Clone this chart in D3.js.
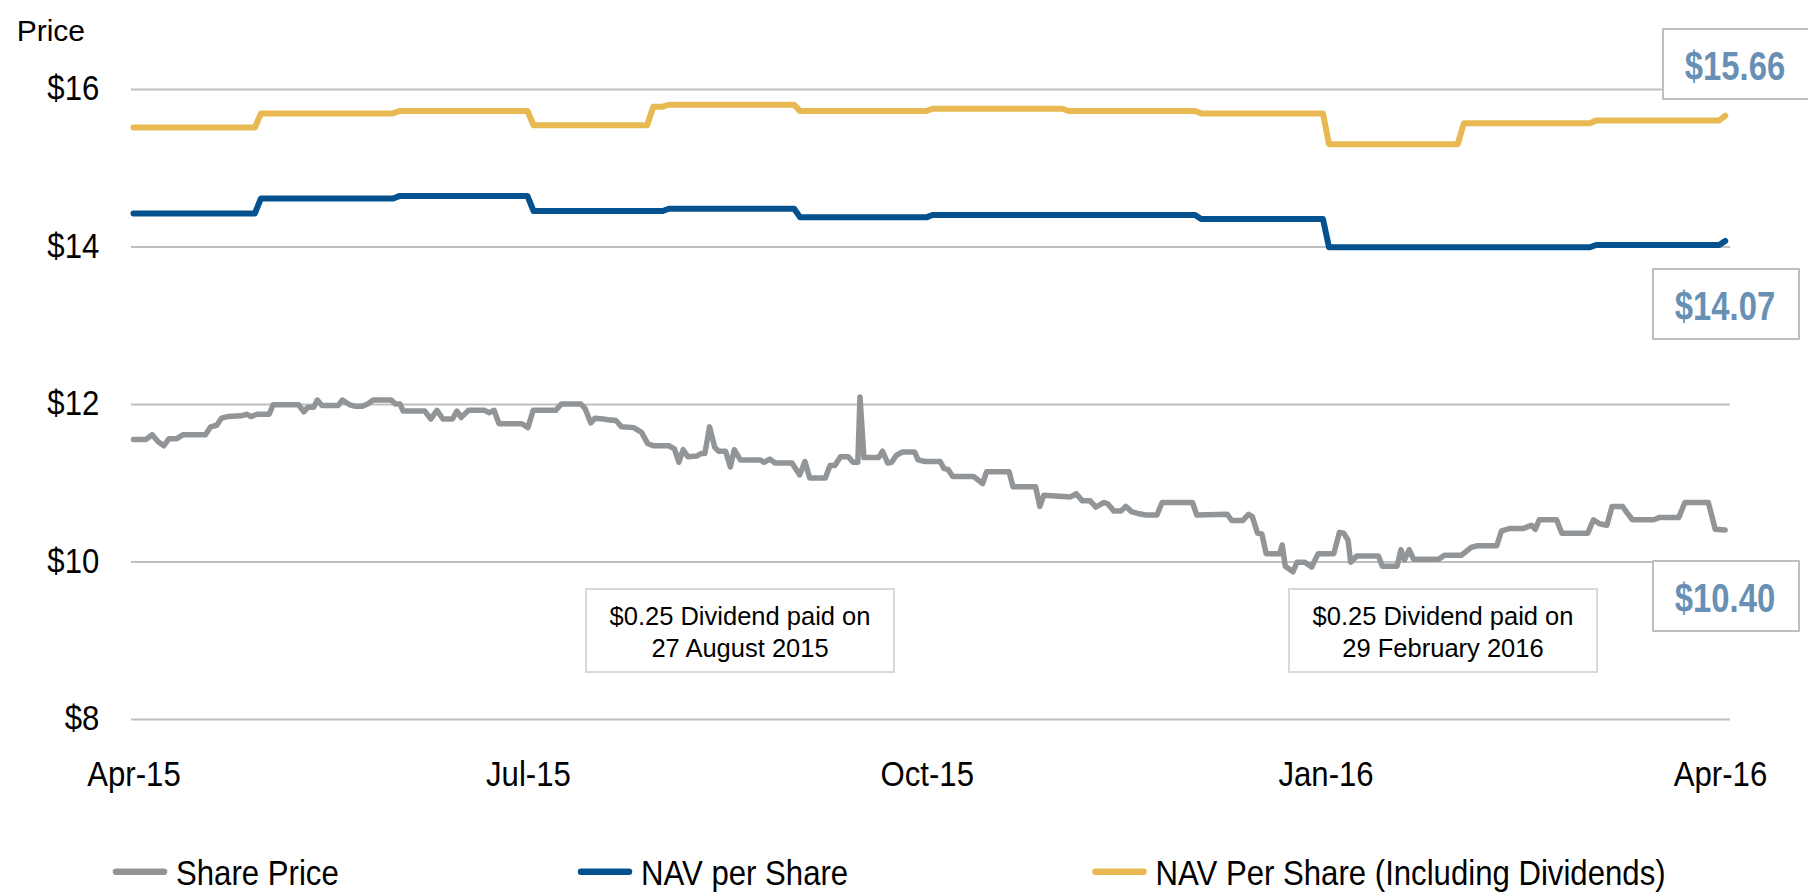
<!DOCTYPE html>
<html>
<head>
<meta charset="utf-8">
<script src="https://cdn.jsdelivr.net/npm/d3@7"></script>
<style>
  html, body { margin: 0; padding: 0; background: #ffffff; }
  svg { display: block; font-family: "Liberation Sans", Arial, sans-serif; }
</style>
</head>
<body>
<svg id="chart" width="1808" height="893"></svg>
<script>
// ---- data -------------------------------------------------------------
const startDate = new Date(2015, 3, 1);          // day 0 of every series
const xTickDates = [new Date(2015, 3, 1), new Date(2015, 6, 1), new Date(2015, 9, 1),
                    new Date(2016, 0, 1), new Date(2016, 3, 1)];
const yTicks = [8, 10, 12, 14, 16];
const seriesNames = ["Share Price", "NAV per Share", "NAV Per Share (Including Dividends)"];

// Share price, [days since 1 Apr 2015, price]
const sharePrice = [
  [0,11.55],[2.9,11.55],[4.3,11.61],[5.7,11.52],[7.0,11.47],[8.2,11.56],[10.0,11.56],[11.4,11.61],
  [16.6,11.61],[17.8,11.71],[19.2,11.73],[20.3,11.82],[21.7,11.84],[24.8,11.85],[26.2,11.87],[27.1,11.84],
  [28.5,11.87],[31.3,11.87],[32.2,11.99],[38.1,11.99],[39.3,11.90],[40.2,11.96],[41.6,11.96],[42.4,12.05],
  [43.5,11.98],[47.2,11.98],[48.2,12.05],[49.9,11.99],[51.3,11.97],[52.7,11.97],[54.0,12.00],[55.3,12.05],
  [59.5,12.05],[60.4,12.00],[61.5,12.00],[62.2,11.91],[67.2,11.91],[68.6,11.81],[70.0,11.92],[71.4,11.81],
  [73.6,11.81],[74.6,11.91],[75.6,11.83],[77.3,11.92],[81.0,11.92],[82.0,11.89],[83.2,11.92],[84.3,11.75],
  [89.6,11.75],[91.0,11.70],[92.2,11.92],[97.4,11.92],[98.7,12.00],[103.2,12.00],[104.2,11.94],[105.5,11.76],
  [106.5,11.82],[108.3,11.81],[109.5,11.80],[111.3,11.79],[112.6,11.71],[115.4,11.70],[117.2,11.64],[118.6,11.50],
  [119.9,11.47],[123.5,11.47],[124.8,11.43],[125.8,11.26],[126.8,11.42],[127.9,11.33],[130.0,11.34],[130.9,11.37],
  [131.8,11.37],[132.9,11.71],[134.1,11.45],[135.0,11.40],[136.6,11.40],[137.7,11.20],[138.6,11.42],[140.0,11.29],
  [144.5,11.29],[145.5,11.26],[146.8,11.30],[148.0,11.25],[151.9,11.25],[153.7,11.10],[154.9,11.27],[156.0,11.06],
  [159.6,11.06],[160.7,11.22],[161.8,11.22],[163.1,11.33],[164.9,11.33],[166.0,11.26],[167.1,11.26],[167.6,12.09],
  [168.5,11.32],[171.9,11.32],[172.8,11.40],[174.0,11.25],[174.9,11.26],[176.0,11.35],[177.4,11.39],[180.2,11.39],
  [181.0,11.29],[182.6,11.27],[186.1,11.27],[187.0,11.18],[187.9,11.17],[189.0,11.08],[193.8,11.08],[195.9,10.99],
  [196.8,11.14],[202.0,11.14],[202.9,10.95],[208.1,10.95],[209.1,10.70],[210.0,10.84],[216.2,10.82],[217.5,10.86],
  [218.9,10.77],[220.7,10.77],[222.0,10.69],[223.9,10.75],[224.8,10.73],[226.2,10.64],[227.8,10.64],[228.9,10.70],
  [230.3,10.63],[231.7,10.61],[233.5,10.59],[236.1,10.59],[237.3,10.75],[244.3,10.75],[245.3,10.59],[252.3,10.60],
  [253.4,10.52],[255.9,10.52],[257.2,10.60],[258.1,10.57],[259.3,10.36],[260.3,10.35],[261.3,10.10],[264.4,10.10],
  [265.0,10.21],[265.7,9.94],[267.5,9.87],[268.4,9.99],[270.2,9.99],[271.8,9.93],[273.3,10.10],[276.9,10.10],
  [278.2,10.37],[279.2,10.36],[280.2,10.27],[280.8,9.99],[282.2,10.07],[287.2,10.07],[288.1,9.94],[291.5,9.94],
  [292.4,10.15],[293.2,10.02],[294.3,10.15],[295.3,10.03],[301.1,10.03],[302.4,10.08],[306.4,10.08],[308.6,10.18],
  [310.0,10.20],[314.5,10.20],[315.6,10.39],[317.6,10.42],[320.7,10.42],[322.5,10.46],[323.4,10.41],[324.3,10.53],
  [328.3,10.53],[329.5,10.36],[335.5,10.36],[336.8,10.53],[338.2,10.48],[339.9,10.46],[341.1,10.70],[343.5,10.70],
  [344.4,10.63],[345.8,10.53],[350.7,10.53],[352.1,10.56],[356.5,10.56],[357.9,10.75],[363.3,10.75],[364.9,10.41],
  [367.2,10.40]
];

// NAV per share, monthly levels: [day the level starts, value]
const navPerShare = [
  [0,14.42],[29.4,14.61],[61.3,14.64],[92.3,14.45],[123.5,14.48],[153.8,14.37],
  [184.3,14.40],[246.3,14.35],[275.8,13.99],[337.4,14.02],[367.2,14.07]
];

// NAV per share including dividends paid, monthly levels
const navInclDividends = [
  [0,15.51],[29.4,15.69],[61.3,15.72],[92.3,15.54],[119.9,15.775],[123.5,15.80],[153.8,15.72],
  [184.3,15.75],[215.7,15.72],[246.3,15.69],[275.8,15.30],[306.9,15.565],[337.4,15.60],[367.2,15.66]
];

const dividendNotes = [
  ["$0.25 Dividend paid on", "27 August 2015"],
  ["$0.25 Dividend paid on", "29 February 2016"]
];

// ---- layout -----------------------------------------------------------
const FONT = "'Liberation Sans', Arial, sans-serif";
const COL = { price: "#929598", nav: "#03528f", navDiv: "#e8b952", grid: "#bfbfbf",
              value: "#6890b5", note: "#d9d9d9" };
const plotLeft = 131, plotRight = 1730;
const dayMs = 864e5;
const toDate = d => new Date(startDate.getTime() + d * dayMs);

const svg = d3.select("#chart");

const x = d3.scaleTime()
  .domain([xTickDates[0], xTickDates[xTickDates.length - 1]])
  .range([133.5, 1720]);
const y = d3.scaleLinear().domain([8, 16]).range([719, 89]);

// horizontal gridlines + y labels
const yAxis = svg.append("g")
  .attr("transform", `translate(${plotLeft},0)`)
  .call(d3.axisLeft(y).tickValues(yTicks).tickSize(-(plotRight - plotLeft))
        .tickPadding(31.7).tickFormat(d => "$" + d));
yAxis.select(".domain").remove();
yAxis.selectAll(".tick line").attr("stroke", COL.grid).attr("stroke-width", 2);
yAxis.selectAll(".tick text")
  .attr("x", null).attr("dy", null)
  .attr("transform", "translate(-31.7,10.5) scale(0.89,1)")
  .attr("font-family", FONT).attr("font-size", 35).attr("fill", "#000");

// x labels
const xAxis = svg.append("g")
  .attr("transform", "translate(0,786.3)")
  .call(d3.axisBottom(x).tickValues(xTickDates).tickSize(0).tickPadding(0)
        .tickFormat(d3.timeFormat("%b-%y")));
xAxis.select(".domain").remove();
xAxis.selectAll(".tick text")
  .attr("y", null).attr("dy", null)
  .attr("transform", "scale(0.89,1)")
  .attr("font-family", FONT).attr("font-size", 35).attr("fill", "#000");

// axis title
svg.append("text").attr("x", 16.7).attr("y", 40.7)
  .attr("font-family", FONT).attr("font-size", 30).attr("fill", "#000").text("Price");

// monthly levels -> drawable points with a short ramp between months
const RAMP = 1.4;
function levelPoints(levels) {
  const pts = [];
  levels.forEach(([d, v], i) => {
    pts.push([d, v]);
    const next = levels[i + 1];
    if (next && i + 1 < levels.length) pts.push([next[0] - RAMP, v]);
  });
  return pts;
}

const line = d3.line().x(p => x(toDate(p[0]))).y(p => y(p[1]));

const series = [
  { pts: levelPoints(navInclDividends), color: COL.navDiv, w: 6 },
  { pts: levelPoints(navPerShare), color: COL.nav, w: 6 },
  { pts: sharePrice, color: COL.price, w: 5.5 }
];
svg.append("g").selectAll("path").data(series).join("path")
  .attr("d", s => line(s.pts))
  .attr("fill", "none").attr("stroke", s => s.color).attr("stroke-width", s => s.w)
  .attr("stroke-linejoin", "round").attr("stroke-linecap", "round");

// closing value boxes
const last = arr => arr[arr.length - 1][1];
const valueBoxes = [
  { v: last(navInclDividends), x0: 1663, y0: 29 },
  { v: last(navPerShare),      x0: 1653, y0: 269 },
  { v: last(sharePrice),       x0: 1653, y0: 561 }
];
const vb = svg.append("g").selectAll("g").data(valueBoxes).join("g")
  .attr("transform", d => `translate(${d.x0},${d.y0})`);
vb.append("rect").attr("width", 146).attr("height", 70)
  .attr("fill", "#fff").attr("stroke", COL.grid).attr("stroke-width", 2);
vb.append("text")
  .attr("transform", "translate(72,51) scale(0.8,1)")
  .attr("text-anchor", "middle").attr("font-family", FONT).attr("font-weight", "bold")
  .attr("font-size", 41).attr("fill", COL.value)
  .text(d => "$" + d.v.toFixed(2));

// dividend notes
const noteBoxes = [{ x0: 586, lines: dividendNotes[0] }, { x0: 1289, lines: dividendNotes[1] }];
const nb = svg.append("g").selectAll("g").data(noteBoxes).join("g")
  .attr("transform", d => `translate(${d.x0},589)`);
nb.append("rect").attr("width", 308).attr("height", 83)
  .attr("fill", "#fff").attr("stroke", COL.note).attr("stroke-width", 2);
nb.each(function (d) {
  const t = d3.select(this).append("text")
    .attr("text-anchor", "middle").attr("font-family", FONT).attr("font-size", 25.5).attr("fill", "#000");
  d.lines.forEach((s, i) => t.append("tspan").attr("x", 154).attr("y", 36 + i * 31.7).text(s));
});

// legend
const legendItems = [
  { name: seriesNames[0], color: COL.price, x0: 113 },
  { name: seriesNames[1], color: COL.nav, x0: 578 },
  { name: seriesNames[2], color: COL.navDiv, x0: 1092.5 }
];
const lg = svg.append("g").selectAll("g").data(legendItems).join("g")
  .attr("transform", d => `translate(${d.x0},871.7)`);
lg.append("line").attr("x1", 3).attr("x2", 51).attr("stroke", d => d.color)
  .attr("stroke-width", 6.5).attr("stroke-linecap", "round");
lg.append("text").attr("transform", "translate(63,13.5) scale(0.89,1)")
  .attr("font-family", FONT).attr("font-size", 35).attr("fill", "#000").text(d => d.name);
</script>
</body>
</html>
